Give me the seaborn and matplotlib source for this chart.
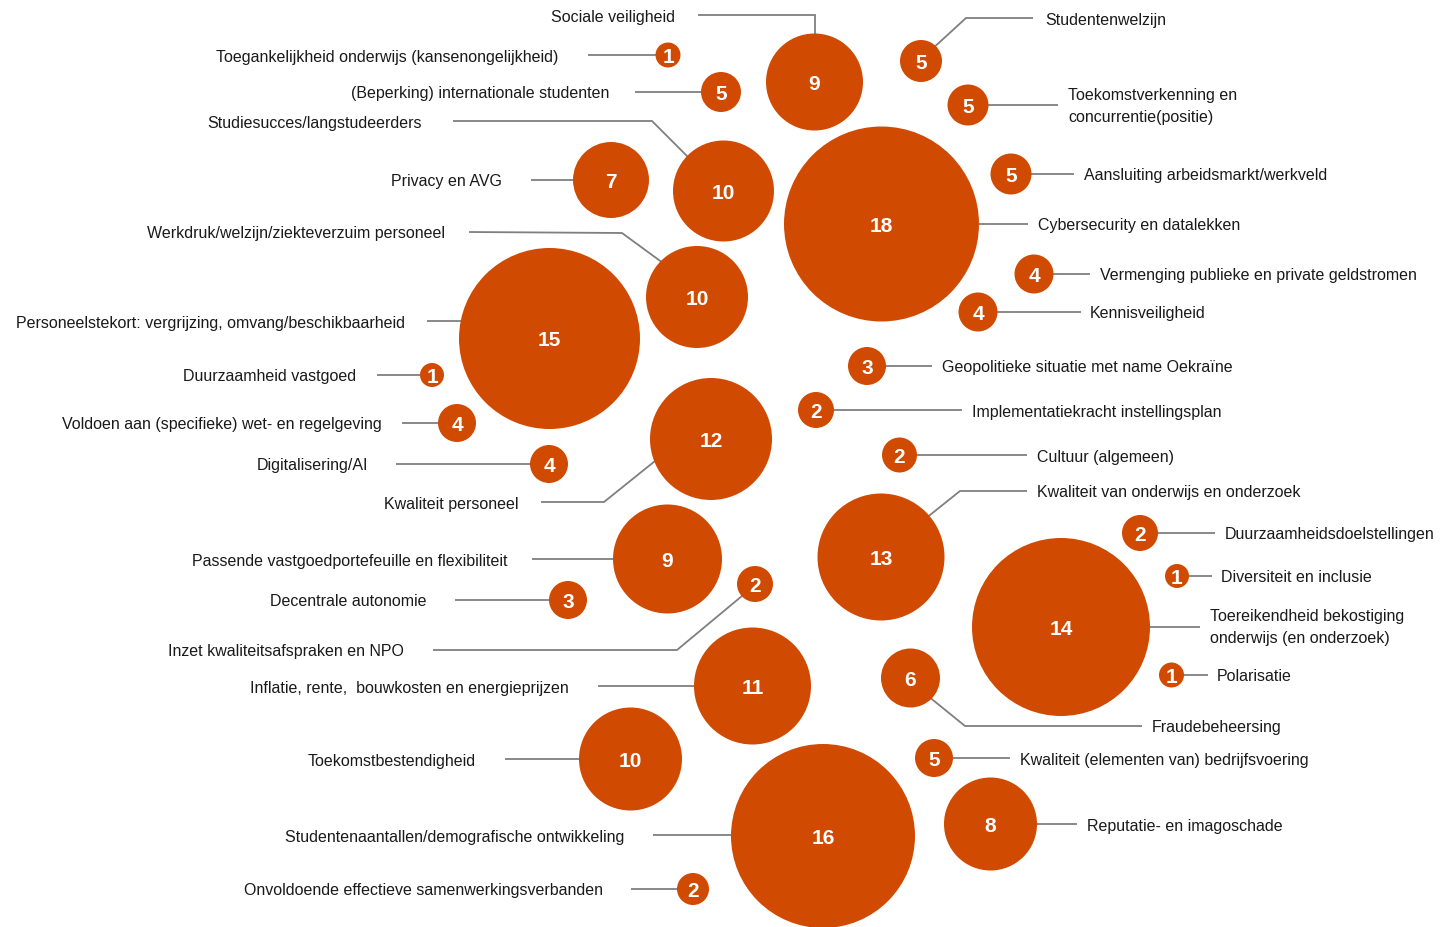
import matplotlib
matplotlib.use("Agg")
import matplotlib.pyplot as plt
import seaborn as sns
import pandas as pd

# ---- data -------------------------------------------------------------
categories = [
    "Sociale veiligheid",
    "Toegankelijkheid onderwijs (kansenongelijkheid)",
    "(Beperking) internationale studenten",
    "Studiesucces/langstudeerders",
    "Privacy en AVG",
    "Werkdruk/welzijn/ziekteverzuim personeel",
    "Personeelstekort: vergrijzing, omvang/beschikbaarheid",
    "Duurzaamheid vastgoed",
    "Voldoen aan (specifieke) wet- en regelgeving",
    "Digitalisering/AI",
    "Kwaliteit personeel",
    "Passende vastgoedportefeuille en flexibiliteit",
    "Decentrale autonomie",
    "Inzet kwaliteitsafspraken en NPO",
    "Inflatie, rente,  bouwkosten en energieprijzen",
    "Toekomstbestendigheid",
    "Studentenaantallen/demografische ontwikkeling",
    "Onvoldoende effectieve samenwerkingsverbanden",
    "Studentenwelzijn",
    "Toekomstverkenning en\nconcurrentie(positie)",
    "Aansluiting arbeidsmarkt/werkveld",
    "Cybersecurity en datalekken",
    "Vermenging publieke en private geldstromen",
    "Kennisveiligheid",
    "Geopolitieke situatie met name Oekraïne",
    "Implementatiekracht instellingsplan",
    "Cultuur (algemeen)",
    "Kwaliteit van onderwijs en onderzoek",
    "Duurzaamheidsdoelstellingen",
    "Diversiteit en inclusie",
    "Toereikendheid bekostiging\nonderwijs (en onderzoek)",
    "Polarisatie",
    "Fraudebeheersing",
    "Kwaliteit (elementen van) bedrijfsvoering",
    "Reputatie- en imagoschade",
]
values = [9, 1, 5, 10, 7, 10, 15, 1, 4, 4, 12, 9, 3, 2, 11, 10, 16, 2,
          5, 5, 5, 18, 4, 4, 3, 2, 2, 13, 2, 1, 14, 1, 6, 5, 8]

# ---- layout (packed bubble positions, pixel space) ----------------------
bubble_x = [814.5, 668, 721, 723.5, 611, 697, 549.5, 432, 457, 549, 711, 667.5,
            568, 755, 752.5, 630.5, 823, 693,
            921, 968, 1011, 881.5, 1034, 978, 867, 816, 899.5, 881, 1140, 1177,
            1061, 1171.5, 910.5, 934, 990.5]
bubble_y = [83, 56, 93, 192, 181, 298, 339.5, 376, 424, 465, 440, 560,
            601, 585, 687, 760, 837, 890,
            62, 106, 175, 225, 275, 313, 367, 411, 456, 558, 534, 577,
            628, 676, 679, 759, 825]
bubble_r = [48.5, 12.5, 20, 50.5, 38, 51, 90.5, 12, 19, 19, 61, 54.5,
            19, 18, 58.5, 51.5, 92, 16,
            21, 20.5, 20.5, 97.5, 19.5, 19.5, 19, 18, 17.5, 63.5, 18, 12,
            89, 12.5, 29.5, 19, 46.5]
label_x = [675, 558, 609, 422, 502, 445, 405, 356, 382, 368, 519, 507,
           427, 404, 569, 476, 624, 603,
           1045, 1068, 1084, 1038, 1100, 1090, 942, 972, 1037, 1037, 1225, 1221,
           1210, 1217, 1152, 1020, 1087]
label_y = [16, 56, 92, 122, 180, 232, 322, 375, 423, 464, 503, 560,
           600, 650, 687, 760, 836, 889,
           19, 105, 174, 224, 274, 312, 366, 411, 456, 491, 533, 576,
           626, 675, 726, 759, 825]
label_side = ["left"] * 18 + ["right"] * 17
leaders = [
    [(698, 16), (814.5, 16), (814.5, 40)],
    [(588, 56), (660, 56)],
    [(635, 93), (710, 93)],
    [(453, 122), (652, 122), (690, 160)],
    [(531, 181), (580, 181)],
    [(469, 233), (622, 234), (663, 264)],
    [(427, 322), (465, 322)],
    [(377, 376), (425, 376)],
    [(402, 424), (445, 424)],
    [(396, 465), (540, 465)],
    [(541, 503), (604, 503), (660, 458)],
    [(532, 560), (620, 560)],
    [(455, 601), (555, 601)],
    [(433, 651), (677, 651), (748, 592)],
    [(598, 687), (700, 687)],
    [(505, 760), (590, 760)],
    [(653, 836), (740, 836)],
    [(631, 890), (685, 890)],
    [(930, 52), (966, 19), (1033, 19)],
    [(975, 106), (1058, 106)],
    [(1020, 175), (1074, 175)],
    [(970, 225), (1028, 225)],
    [(1040, 275), (1090, 275)],
    [(985, 313), (1081, 313)],
    [(875, 367), (932, 367)],
    [(825, 411), (962, 411)],
    [(905, 456), (1027, 456)],
    [(925, 520), (960, 492), (1027, 492)],
    [(1150, 534), (1215, 534)],
    [(1182, 577), (1212, 577)],
    [(1140, 628), (1200, 628)],
    [(1178, 676), (1208, 676)],
    [(928, 697), (965, 727), (1142, 727)],
    [(940, 759), (1010, 759)],
    [(1030, 825), (1077, 825)],
]

# ---- style ---------------------------------------------------------------
ORANGE = "#D04A02"
LINE = "#7f7f7f"
TEXT = "#1a1a1a"
DPI = 100

sns.set_theme(style="white")
plt.rcParams["font.family"] = ["Liberation Sans", "DejaVu Sans"]

fig = plt.figure(figsize=(14.4, 9.28), dpi=DPI)
ax = fig.add_axes([0, 0, 1, 1])
ax.set_xlim(0, 1440)
ax.set_ylim(928, 0)
ax.axis("off")

# leader lines (below bubbles)
for path in leaders:
    xs = [p[0] for p in path]
    ys = [p[1] for p in path]
    ax.plot(xs, ys, color=LINE, lw=1.3, zorder=1, solid_capstyle="butt",
            solid_joinstyle="miter")

df = pd.DataFrame({"x": bubble_x, "y": bubble_y, "value": values,
                   "category": categories})
marker_area = [(2 * r * 72 / DPI) ** 2 for r in bubble_r]
sns.scatterplot(data=df, x="x", y="y", s=marker_area, color=ORANGE,
                linewidth=0, legend=False, ax=ax, zorder=3)
ax.set_xlabel("")
ax.set_ylabel("")

for i, row in df.iterrows():
    ax.text(row["x"], row["y"] + 1.5, str(row["value"]), ha="center",
            va="center", color="white", fontsize=15, fontweight="bold",
            zorder=4)
    ha = "right" if label_side[i] == "left" else "left"
    ax.text(label_x[i], label_y[i] + 1.5, row["category"], ha=ha, va="center",
            color=TEXT, fontsize=11.5, linespacing=1.6, zorder=4)

fig.savefig("out.png", dpi=DPI, facecolor="white")
